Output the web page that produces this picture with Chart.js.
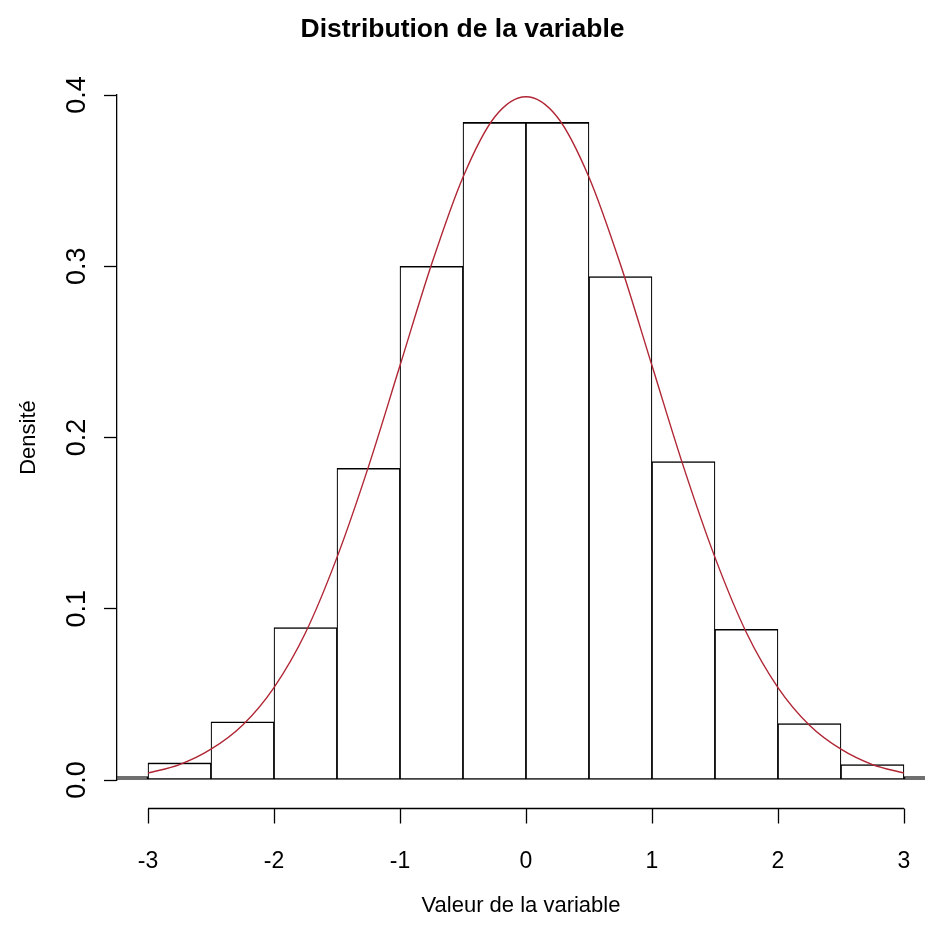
<!DOCTYPE html>
<html><head><meta charset="utf-8">
<script src="https://cdn.jsdelivr.net/npm/chart.js@4.4.1/dist/chart.umd.min.js"></script>
<style>html,body{margin:0;padding:0;background:#fff;}#wrap{width:925px;height:940px;}</style>
</head><body><div id="wrap"><canvas id="c" width="925" height="940"></canvas></div>
<script>
// ---- data ----
const binCenters = [-3.25,-2.75,-2.25,-1.75,-1.25,-0.75,-0.25,0.25,0.75,1.25,1.75,2.25,2.75,3.25];
const binDensity = [0.002,0.010,0.034,0.089,0.182,0.300,0.384,0.384,0.294,0.186,0.088,0.033,0.009,0.002];
const curveX = [-3,-2.75,-2.5,-2.25,-2,-1.75,-1.5,-1.25,-1,-0.75,-0.5,-0.25,0,0.25,0.5,0.75,1,1.25,1.5,1.75,2,2.25,2.5,2.75,3];
const curveY = [0.004,0.009,0.018,0.032,0.054,0.086,0.130,0.183,0.242,0.301,0.352,0.387,0.399,0.387,0.352,0.301,0.242,0.183,0.130,0.086,0.054,0.032,0.018,0.009,0.004];
const xTickValues = [-3,-2,-1,0,1,2,3];
const yTickValues = [0,0.1,0.2,0.3,0.4];
const chartTitle = 'Distribution de la variable';
const xTitle = 'Valeur de la variable';
const yTitle = 'Densité';

const FAM = "'Liberation Sans',Arial,sans-serif";

const rAxisPlugin = {
  id: 'rAxis',
  afterDatasetsDraw(chart) {
    const {ctx, chartArea, scales} = chart;
    const x = scales.x;
    const y0 = Math.round(chartArea.bottom + 28) + 0.5;
    ctx.save();
    ctx.strokeStyle = '#000';
    ctx.lineWidth = 1.3;
    ctx.beginPath();
    ctx.moveTo(x.getPixelForValue(xTickValues[0]), y0);
    ctx.lineTo(x.getPixelForValue(xTickValues[xTickValues.length - 1]), y0);
    xTickValues.forEach(v => {
      const px = Math.round(x.getPixelForValue(v)) + 0.5;
      ctx.moveTo(px, y0);
      ctx.lineTo(px, y0 + 15);
    });
    ctx.stroke();
    ctx.restore();
  }
};

new Chart(document.getElementById('c'), {
  type: 'bar',
  data: {
    datasets: [
      {
        type: 'line',
        order: 1,
        data: curveX.map((v, i) => ({x: v, y: curveY[i]})),
        borderColor: 'rgb(176,38,52)',
        borderWidth: 1.4,
        pointRadius: 0,
        fill: false,
        cubicInterpolationMode: 'monotone'
      },
      {
        type: 'bar',
        order: 2,
        data: binCenters.map((v, i) => ({x: v, y: binDensity[i]})),
        backgroundColor: '#ffffff',
        borderColor: '#000000',
        borderWidth: {top: 1.6, bottom: 1.5, left: 1.2, right: 1.2},
        borderSkipped: false,
        barPercentage: 1,
        categoryPercentage: 1,
        clip: 0
      }
    ]
  },
  options: {
    responsive: false,
    animation: false,
    devicePixelRatio: 1,
    layout: {padding: 0},
    plugins: {
      legend: {display: false},
      tooltip: {enabled: false},
      title: {
        display: true, text: chartTitle, color: '#000',
        font: {family: FAM, size: 26.5, weight: 'bold'},
        padding: {top: 14, bottom: 49.2}
      }
    },
    scales: {
      x: {
        type: 'linear', min: -3.246, max: 3.167, offset: false,
        afterBuildTicks: s => { s.ticks = xTickValues.map(v => ({value: v})); },
        afterFit: s => { s.height = 160; s.paddingLeft = 0; s.paddingRight = 0; },
        grid: {display: false, drawTicks: false, offset: false},
        border: {display: false},
        ticks: {padding: 68, maxRotation: 0, autoSkip: false, color: '#000',
          font: {family: FAM, size: 23}, callback: v => String(v)},
        title: {display: true, text: xTitle, color: '#000',
          font: {family: FAM, size: 22}, padding: {top: 0, bottom: 21}}
      },
      y: {
        min: 0, max: 0.4,
        afterBuildTicks: s => { s.ticks = yTickValues.map(v => ({value: v})); },
        afterFit: s => { s.width = 117; s.paddingTop = 0; s.paddingBottom = 0; },
        grid: {display: true, drawOnChartArea: false, drawTicks: true, tickLength: 13,
          tickColor: '#000', tickWidth: 1.3},
        border: {display: true, color: '#000', width: 1.3},
        ticks: {minRotation: 90, maxRotation: 90, crossAlign: 'center', padding: 8, color: '#000',
          font: {family: FAM, size: 27}, callback: v => Number(v).toFixed(1)},
        title: {display: true, text: yTitle, color: '#000',
          font: {family: FAM, size: 22}, padding: {top: 16, bottom: 0}}
      }
    }
  },
  plugins: [rAxisPlugin]
});
</script></body></html>
